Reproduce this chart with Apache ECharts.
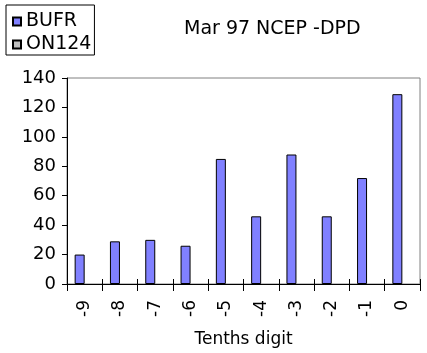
<!DOCTYPE html>
<html>
<head>
<meta charset="utf-8">
<script src="https://cdn.jsdelivr.net/npm/echarts@6/dist/echarts.min.js"></script>
<style>
  html, body { margin: 0; padding: 0; background: #fff; }
  #chart_01 { width: 427px; height: 353px; }
</style>
</head>
<body>
<div id="chart_01"></div>
<script>
'use strict';

var digitArr = ['-9', '-8', '-7', '-6', '-5', '-4', '-3', '-2', '-1', '0'],
    bufrArr = [20, 29, 30, 26, 85, 46, 88, 46, 72, 129],
    on124Arr = [null, null, null, null, null, null, null, null, null, null],
    yMin = 0,
    yMax = 140,
    yStep = 20;

var font = 'DejaVu Sans';

var chart_01 = echarts.init(document.getElementById('chart_01'));

var option = {
    animation: false,
    title: {
        text: 'Mar 97 NCEP -DPD',
        left: 184,
        top: 20,
        padding: 0,
        textStyle: {
            fontFamily: font,
            fontSize: 19,
            fontWeight: 'normal',
            color: '#000'
        }
    },
    legend: {
        data: [{ name: 'BUFR' }, { name: 'ON124' }],
        orient: 'vertical',
        left: 6,
        top: 5,
        padding: [7, 3, 1, 6],
        itemGap: 4,
        itemWidth: 8,
        itemHeight: 8,
        icon: 'rect',
        borderColor: '#000',
        borderWidth: 1,
        textStyle: {
            fontFamily: font,
            fontSize: 19,
            color: '#000'
        }
    },
    grid: {
        left: 67,
        right: 7,
        top: 78,
        bottom: 67,
        show: true,
        borderColor: '#808080',
        borderWidth: 1,
        containLabel: false
    },
    xAxis: [{
        type: 'category',
        data: digitArr,
        name: 'Tenths digit',
        nameLocation: 'middle',
        nameGap: 47,
        nameTextStyle: {
            fontFamily: font,
            fontSize: 17,
            color: '#000'
        },
        axisLine: { lineStyle: { color: '#000', width: 1 } },
        axisTick: { show: true, length: 7, lineStyle: { color: '#000' } },
        axisLabel: {
            rotate: 90,
            margin: 16,
            fontFamily: font,
            fontSize: 17,
            color: '#000'
        }
    }, {
        type: 'category',
        data: digitArr,
        position: 'bottom',
        axisLine: { show: false },
        axisTick: { show: true, inside: true, length: 5, lineStyle: { color: '#000' } },
        axisLabel: { show: false }
    }],
    yAxis: [{
        type: 'value',
        min: yMin,
        max: yMax,
        interval: yStep,
        axisLine: { show: true, lineStyle: { color: '#000', width: 1 } },
        axisTick: { show: true, length: 5, lineStyle: { color: '#000' } },
        axisLabel: {
            margin: 11,
            fontFamily: font,
            fontSize: 18,
            color: '#000'
        },
        splitLine: { show: false }
    }],
    series: [{
        name: 'BUFR',
        type: 'bar',
        barWidth: 10,
        barGap: '0%',
        itemStyle: {
            color: '#8080ff',
            borderColor: '#000',
            borderWidth: 1
        },
        data: bufrArr
    }, {
        name: 'ON124',
        type: 'bar',
        barWidth: 10,
        itemStyle: {
            color: '#c0c0c0',
            borderColor: '#000',
            borderWidth: 1
        },
        data: on124Arr
    }]
};

chart_01.setOption(option);
</script>
</body>
</html>
